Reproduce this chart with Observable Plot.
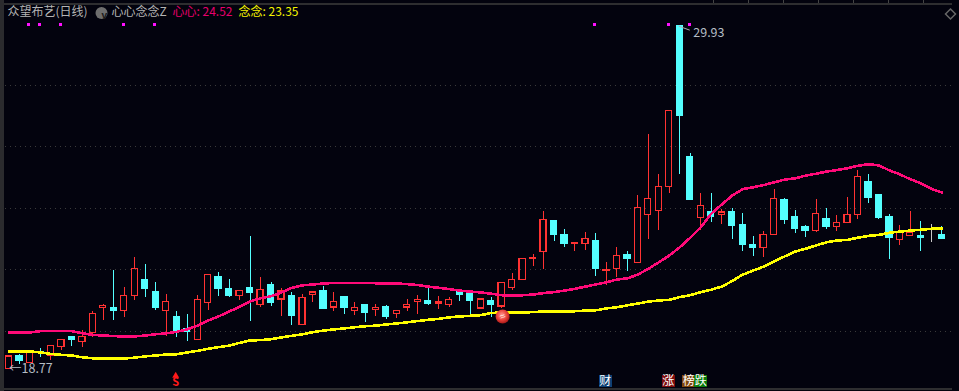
<!DOCTYPE html>
<html><head><meta charset="utf-8">
<script src="https://cdn.jsdelivr.net/npm/d3@7"></script>
<script src="https://cdn.jsdelivr.net/npm/@observablehq/plot@0.6"></script>
<style>html,body{margin:0;padding:0;background:#03030e;overflow:hidden}svg{display:block}</style>
</head><body><div id="chart"></div>
<script>
const opens=[18.77,19.19,18.97,19.33,19.21,19.49,19.81,19.65,19.94,20.76,
20.77,20.66,21.16,21.68,21.27,20.66,20.46,20.07,19.72,20.92,
21.76,21.37,21.15,21.40,20.86,21.50,21.04,21.14,20.20,21.18,
21.33,20.78,21.11,20.66,20.85,20.69,20.78,20.58,20.78,20.95,
20.98,20.90,20.86,21.27,21.27,20.75,20.98,20.81,21.42,21.67,
22.36,22.58,23.58,23.12,22.85,22.84,22.93,21.96,22.03,22.47,
22.22,23.78,23.91,24.71,29.93,25.66,23.69,23.87,23.79,23.87,
23.45,22.80,22.71,23.13,24.26,23.71,23.38,23.26,23.64,23.39,
23.52,23.78,24.85,24.42,23.71,22.97,23.10,23.09,23.21,23.15];
const closes=[19.19,19.06,19.33,19.30,19.53,19.73,19.74,19.83,20.58,20.84,
20.68,21.16,22.04,21.37,20.78,20.97,19.98,19.98,21.03,21.84,
21.37,21.17,21.32,21.27,21.36,20.94,21.30,20.52,21.10,21.27,
20.75,20.97,20.78,20.77,20.59,20.77,20.49,20.67,20.87,21.03,
20.91,20.94,21.03,21.20,20.98,21.04,20.85,21.58,21.68,22.36,
22.40,23.63,23.15,22.86,22.89,23.01,22.02,22.01,22.46,22.37,
24.02,24.32,24.71,27.18,27.00,24.29,24.09,23.74,23.87,23.45,
22.80,22.73,23.14,24.31,23.64,23.35,23.28,23.83,23.41,23.53,
23.79,25.03,24.33,23.71,23.06,23.20,23.20,23.06,23.21,23.02];
const highs=[19.19,19.25,19.33,19.45,19.53,19.73,19.81,20.03,20.65,20.88,
21.98,21.43,22.40,22.18,21.59,21.20,20.65,20.55,21.17,21.84,
21.92,21.69,21.32,23.09,21.76,21.59,21.39,21.27,21.20,21.31,
21.46,21.27,21.11,20.94,20.88,20.88,20.85,20.68,21.04,21.17,
21.40,21.14,21.11,21.33,21.33,21.04,21.11,21.58,21.89,22.39,
22.50,23.90,23.58,23.32,22.89,23.22,23.19,22.24,22.73,22.60,
24.42,26.41,25.11,27.18,29.93,25.79,24.49,24.49,23.97,24.00,
23.84,23.09,23.25,24.62,24.33,23.93,23.45,24.29,24.00,23.77,
24.36,25.24,25.11,24.46,23.80,23.45,23.90,23.58,23.48,23.41];
const lows=[18.77,18.93,18.97,19.15,19.06,19.38,19.51,19.48,19.81,20.36,
20.36,20.46,21.01,21.11,20.68,19.84,19.80,19.67,19.72,20.68,
21.14,21.11,21.01,20.34,20.79,20.81,20.49,20.19,20.20,20.94,
20.72,20.65,20.55,20.52,20.29,20.49,20.39,20.42,20.65,20.55,
20.85,20.72,20.78,20.98,20.52,20.72,20.46,20.75,21.33,21.67,
22.11,22.02,22.93,22.73,22.60,22.63,21.79,21.50,21.76,21.95,
22.22,22.99,23.28,24.49,25.11,24.29,23.28,23.54,23.48,22.99,
22.60,22.44,22.41,23.13,23.48,23.19,23.06,23.22,23.31,23.25,
23.52,23.64,24.16,23.64,22.34,22.80,23.10,22.60,22.89,22.99];
const xin=[19.97,19.97,19.97,20.01,20.01,20.01,20.01,19.94,19.89,19.87,
19.85,19.84,19.84,19.87,19.91,19.94,19.99,20.07,20.19,20.36,
20.49,20.65,20.80,20.98,21.08,21.15,21.27,21.42,21.50,21.53,
21.56,21.58,21.58,21.58,21.58,21.57,21.56,21.56,21.54,21.51,
21.46,21.42,21.38,21.33,21.30,21.27,21.23,21.18,21.18,21.18,
21.20,21.25,21.28,21.33,21.39,21.46,21.53,21.60,21.69,21.73,
21.85,22.04,22.25,22.47,22.74,23.05,23.39,23.83,24.13,24.42,
24.63,24.69,24.76,24.85,24.94,24.98,25.07,25.13,25.20,25.25,
25.31,25.39,25.44,25.40,25.24,25.11,24.95,24.82,24.64,24.52];
const nian=[19.35,19.35,19.35,19.32,19.27,19.24,19.22,19.16,19.13,19.12,
19.12,19.12,19.15,19.19,19.22,19.25,19.26,19.32,19.37,19.44,
19.49,19.54,19.63,19.71,19.72,19.75,19.81,19.86,19.91,19.98,
20.03,20.07,20.10,20.14,20.17,20.19,20.23,20.26,20.30,20.34,
20.38,20.41,20.46,20.49,20.51,20.53,20.60,20.62,20.62,20.62,
20.63,20.65,20.65,20.66,20.66,20.68,20.69,20.75,20.79,20.85,
20.91,20.97,21.01,21.03,21.12,21.18,21.28,21.36,21.46,21.64,
21.85,21.98,22.11,22.28,22.44,22.60,22.69,22.80,22.90,22.96,
22.98,23.05,23.11,23.14,23.21,23.25,23.28,23.31,23.34,23.35];
const flagDays=[2,3,5,11,14,56,63,65];
const gridPrices=[20,22,24,26,28];
const badges=[{i:56.9,t:"财",c:"#0e3f73"},{i:62.9,t:"涨",c:"#7d0c0c"},{i:64.85,t:"榜",c:"#80460c"},{i:66,t:"跌",c:"#0b7a0b"}];

const RED="#ff3232",CYAN="#54ffff",PINK="#ff0a78",YEL="#ffff00",GRAY="#c8c8c8";
const candles=opens.map((o,i)=>({i,o,c:closes[i],h:highs[i],l:lows[i],
  top:Math.max(o,closes[i]),bot:Math.min(o,closes[i]),
  col:closes[i]>o?RED:closes[i]<o?CYAN:GRAY}));
const days=d3.range(opens.length);
const yFlag=29.98,yBadge=18.39,half=0.29,crisp={shapeRendering:"crispEdges"};
const font='"Noto Sans CJK SC","Noto Sans",sans-serif';
const head=(t,dx,fill)=>Plot.text([t],{frameAnchor:"top-left",dx,dy:12,text:d=>d,textAnchor:"start",lineAnchor:"middle",fill,fontSize:12,fontFamily:font});
const ballDefs=()=>{
  const s=d3.create("svg:defs");
  const g=s.append("radialGradient").attr("id","ball").attr("cx","45%").attr("cy","40%").attr("r","60%");
  g.append("stop").attr("offset","0%").attr("stop-color","#ff9a90");
  g.append("stop").attr("offset","60%").attr("stop-color","#e8403a");
  g.append("stop").attr("offset","100%").attr("stop-color","#a81a18");
  return s.node();
};
const chart=Plot.plot({
  width:959,height:391,margin:0,
  style:{background:"#03030e",overflow:"hidden"},
  x:{type:"linear",domain:[0,89],range:[8.5,941.3],axis:null},
  y:{type:"linear",domain:[18,30.764],range:[392.5,0],axis:null},
  marks:[
    ballDefs,
    Plot.ruleY(gridPrices,{x1:-0.35,x2:90,stroke:"#3a3a3a",strokeDasharray:"1,4",strokeWidth:1,...crisp}),
    Plot.rect([0],{x1:-0.82,x2:-0.43,y1:18,y2:30.764,fill:"#2b2b2e",...crisp}),
    Plot.ruleY([18.14],{x1:-0.43,x2:90,stroke:"#2e2e30",strokeWidth:2,...crisp}),
    Plot.ruleY([30.66],{x1:-0.43,x2:90,stroke:"#2e2e30",strokeWidth:2,...crisp}),
    Plot.ruleX(d3.range(7),{x:d=>67.22+d*3.34,y1:30.66,y2:30.764,stroke:"#444",...crisp}),
    Plot.ruleX(candles,{x:"i",y1:"top",y2:"h",stroke:"col",strokeWidth:1,...crisp}),
    Plot.ruleX(candles,{x:"i",y1:"bot",y2:"l",stroke:"col",strokeWidth:1,...crisp}),
    Plot.rect(candles,{x1:d=>d.i-half,x2:d=>d.i+half,y1:"bot",y2:"top",
      fill:d=>d.col===CYAN?CYAN:"none",stroke:"col",strokeWidth:1.2,...crisp}),
    Plot.line(days,{x:d=>d,y:d=>xin[d],stroke:PINK,strokeWidth:2.6,...crisp}),
    Plot.line(days,{x:d=>d,y:d=>nian[d],stroke:YEL,strokeWidth:2.6,...crisp}),
    Plot.dot(flagDays,{x:d=>d,y:()=>yFlag,dx:-1,symbol:"square",r:1.7,fill:"#ff10ff",stroke:"none",...crisp}),
    Plot.link([0],{x1:()=>63.9,y1:()=>29.93,x2:()=>64.95,y2:()=>29.8,stroke:"#b0b0b0",strokeWidth:1}),
    Plot.text(["29.93"],{x:()=>65,y:()=>29.72,dx:3,text:d=>d,textAnchor:"start",fill:"#b4bcc4",fontSize:12.5,fontFamily:font}),
    Plot.text(["←18.77"],{x:()=>0,y:()=>18.77,text:d=>d,textAnchor:"start",fill:"#b4bcc4",fontSize:12.5,fontFamily:font}),
    Plot.dot([47],{x:d=>d,y:()=>20.49,dx:1,r:7,fill:"url(#ball)",stroke:"none"}),
    Plot.text(["≈"],{x:()=>47,y:()=>20.49,dx:1,text:d=>d,fill:"#ffe0dc",fontSize:10,rotate:-25}),
    Plot.dot([16],{x:d=>d,y:()=>18.56,dx:-1,symbol:"triangle",r:2.6,fill:"#ff1a1a",stroke:"none"}),
    Plot.text(["S"],{x:()=>16,y:()=>18.34,dx:-1,text:d=>d,fill:"#ff1a1a",fontSize:11,fontWeight:"bold",fontFamily:font}),
    Plot.dot(badges,{x:"i",y:()=>yBadge,symbol:"square",r:7.2,fill:"c",stroke:"none",...crisp}),
    Plot.text(badges,{x:"i",y:()=>yBadge,text:"t",fill:"#fff",fontSize:12,fontFamily:font}),
    head("众望布艺(日线)",7,"#b4b4b4"),
    Plot.dot([0],{frameAnchor:"top-left",dx:101,dy:12.5,r:6,fill:"#6e6e6e",stroke:"none"}),
    Plot.text(["v"],{frameAnchor:"top-left",dx:101,dy:11.5,text:d=>d,fill:"#1c1c1c",fontSize:10,fontWeight:"bold"}),
    head("心心念念Z",111,"#b4b4b4"),
    head("心心: 24.52",172,"#e8006c"),
    head("念念: 23.35",238,"#f4f400"),
    Plot.dot([0],{frameAnchor:"top-right",dx:-9,dy:13.5,symbol:"diamond2",r:4.5,stroke:"#666",fill:"none"})
  ]
});
document.getElementById("chart").append(chart);
</script></body></html>
